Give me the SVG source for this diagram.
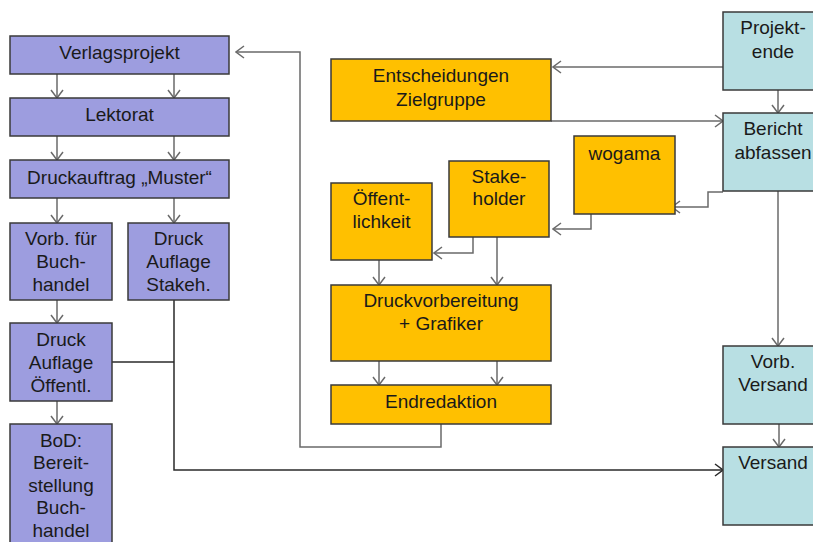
<svg xmlns="http://www.w3.org/2000/svg" width="813" height="542" viewBox="0 0 813 542">
<style>
  .p { fill: #9d9ddf; stroke: #3a3a3a; stroke-width: 1.5; }
  .o { fill: #ffc000; stroke: #3a3a3a; stroke-width: 1.5; }
  .b { fill: #b8dfe3; stroke: #3a3a3a; stroke-width: 1.5; }
  text { font-family: "Liberation Sans", Arial, sans-serif; font-size: 19px; fill: #1a1a1a; text-anchor: middle; }
  .c { fill: none; stroke: #6a6a6a; stroke-width: 1.5; }
  .k { fill: none; stroke: #2a2a2a; stroke-width: 1.5; }
</style>
<defs>
  <marker id="a" markerUnits="userSpaceOnUse" markerWidth="10" markerHeight="14" refX="9" refY="7" orient="auto">
    <path d="M1,1 L9,7 L1,13" fill="none" stroke="#6a6a6a" stroke-width="1.5"/>
  </marker>
  <marker id="ak" markerUnits="userSpaceOnUse" markerWidth="10" markerHeight="14" refX="9" refY="7" orient="auto">
    <path d="M1,1 L9,7 L1,13" fill="none" stroke="#2a2a2a" stroke-width="1.5"/>
  </marker>
</defs>
<rect width="813" height="542" fill="#ffffff"/>
<g id="connectors">
  <path class="c" d="M57,74 V98" marker-end="url(#a)"/>
  <path class="c" d="M174,74 V98" marker-end="url(#a)"/>
  <path class="c" d="M57,136 V160" marker-end="url(#a)"/>
  <path class="c" d="M174,136 V160" marker-end="url(#a)"/>
  <path class="c" d="M57,198 V223" marker-end="url(#a)"/>
  <path class="c" d="M174,198 V223" marker-end="url(#a)"/>
  <path class="c" d="M57,300 V323" marker-end="url(#a)"/>
  <path class="c" d="M57,401 V424" marker-end="url(#a)"/>
  <path class="k" d="M112,362 H174"/>
  <path class="k" d="M174,300 V470 H723" marker-end="url(#ak)"/>
  <path class="c" d="M441,424 V447 H300 V52 H236" marker-end="url(#a)"/>
  <path class="c" d="M723,67 H553" marker-end="url(#a)"/>
  <path class="c" d="M551,121 H723" marker-end="url(#a)"/>
  <path class="c" d="M778,90 V113" marker-end="url(#a)"/>
  <path class="c" d="M723,192 H708 V207 H672" marker-end="url(#a)"/>
  <path class="c" d="M591,214 V229 H553" marker-end="url(#a)"/>
  <path class="c" d="M473,237 V253 H434" marker-end="url(#a)"/>
  <path class="c" d="M497,237 V285" marker-end="url(#a)"/>
  <path class="c" d="M379,260 V285" marker-end="url(#a)"/>
  <path class="c" d="M379,361 V385" marker-end="url(#a)"/>
  <path class="c" d="M497,361 V385" marker-end="url(#a)"/>
  <path class="c" d="M778,191 V346" marker-end="url(#a)"/>
  <path class="c" d="M779,424 V447" marker-end="url(#a)"/>
</g>
<g id="verlagsprojekt"><rect class="p" x="10" y="36" width="219" height="38"/><text x="119.5" y="59">Verlagsprojekt</text></g>
<g id="lektorat"><rect class="p" x="10" y="98" width="219" height="38"/><text x="119.5" y="121">Lektorat</text></g>
<g id="druckauftrag"><rect class="p" x="10" y="160" width="219" height="38"/><text x="119.5" y="184">Druckauftrag „Muster“</text></g>
<g id="vorb-buchhandel"><rect class="p" x="10" y="223" width="102" height="77"/><text x="61" y="245">Vorb. für</text><text x="61" y="268">Buch-</text><text x="61" y="291">handel</text></g>
<g id="druck-stakeh"><rect class="p" x="128" y="223" width="101" height="77"/><text x="178.5" y="245">Druck</text><text x="178.5" y="268">Auflage</text><text x="178.5" y="291">Stakeh.</text></g>
<g id="druck-oeffentl"><rect class="p" x="10" y="323" width="102" height="78"/><text x="61" y="346">Druck</text><text x="61" y="369">Auflage</text><text x="61" y="392">Öffentl.</text></g>
<g id="bod"><rect class="p" x="10" y="424" width="102" height="130"/><text x="61" y="447">BoD:</text><text x="61" y="469">Bereit-</text><text x="61" y="492">stellung</text><text x="61" y="514">Buch-</text><text x="61" y="537">handel</text></g>
<g id="entscheidungen"><rect class="o" x="331" y="59" width="220" height="62"/><text x="441" y="82">Entscheidungen</text><text x="441" y="106">Zielgruppe</text></g>
<g id="oeffentlichkeit"><rect class="o" x="331" y="183" width="101" height="77"/><text x="381.5" y="205">Öffent-</text><text x="381.5" y="228">lichkeit</text></g>
<g id="stakeholder"><rect class="o" x="449" y="161" width="100" height="76"/><text x="499" y="183">Stake-</text><text x="499" y="205">holder</text></g>
<g id="wogama"><rect class="o" x="574" y="136" width="101" height="78"/><text x="624.5" y="160">wogama</text></g>
<g id="druckvorbereitung"><rect class="o" x="331" y="285" width="220" height="76"/><text x="441" y="307">Druckvorbereitung</text><text x="441" y="330">+ Grafiker</text></g>
<g id="endredaktion"><rect class="o" x="331" y="385" width="220" height="39"/><text x="441" y="408">Endredaktion</text></g>
<g id="projektende"><rect class="b" x="723" y="12" width="100" height="78"/><text x="773" y="34">Projekt-</text><text x="773" y="58">ende</text></g>
<g id="bericht"><rect class="b" x="723" y="113" width="100" height="78"/><text x="773" y="135">Bericht</text><text x="773" y="159">abfassen</text></g>
<g id="vorb-versand"><rect class="b" x="723" y="346" width="100" height="78"/><text x="773" y="368">Vorb.</text><text x="773" y="391">Versand</text></g>
<g id="versand"><rect class="b" x="723" y="447" width="100" height="78"/><text x="773" y="469">Versand</text></g>
</svg>
